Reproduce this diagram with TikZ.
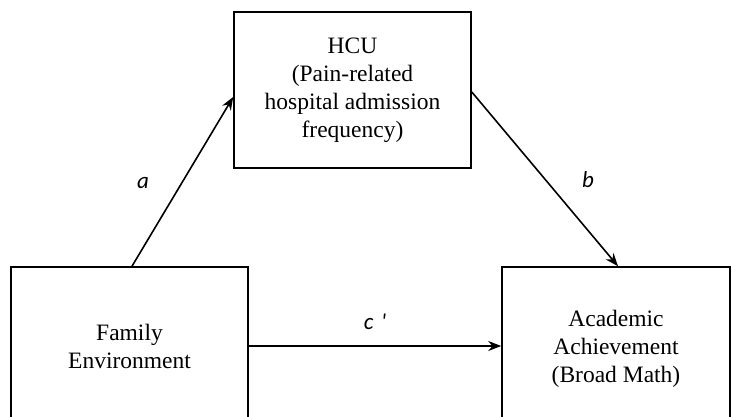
\documentclass[tikz,border=0pt]{standalone}
\usepackage{fontspec}
\setmainfont{Liberation Serif}
\newfontfamily\lblfont{Carlito}
\usetikzlibrary{arrows.meta,calc}
\begin{document}
\begin{tikzpicture}[x=1pt,y=-1pt,
  box/.style={draw,line width=1.6pt,align=center,inner sep=0pt,
    font=\fontsize{23.5}{28}\selectfont},
  link/.style={line width=1.6pt,-{Stealth[length=13pt,width=10pt]}},
  lbl/.style={font=\lblfont\itshape\fontsize{23}{26}\selectfont}]
\useasboundingbox (0,0) rectangle (731,417);
\clip (0,0) rectangle (731,417);
\fill[white] (0,0) rectangle (731,417);
\node[box,minimum width=237pt,minimum height=156pt] (hcu) at (352.5,90)
  {HCU\\(Pain-related\\hospital admission\\frequency)};
\node[box,minimum width=237pt,minimum height=158pt] (fam) at (129.5,346)
  {Family\\Environment};
\node[box,minimum width=228pt,minimum height=164pt] (ach) at (616,349)
  {Academic\\Achievement\\(Broad Math)};
\draw[link] ([xshift=2.5pt]fam.north) -- ([yshift=-7pt]hcu.west);
\draw[link] ([yshift=-2pt]hcu.east) -- ([xshift=2pt]ach.north);
\draw[link] (fam.east) -- (fam.east -| ach.west);
\node[lbl] (la) at (143,183) {a};
\node[lbl] (lb) at (588,180) {b};
\node[lbl] (lc) at (375,322) {c\,\,'};
\end{tikzpicture}
\end{document}
